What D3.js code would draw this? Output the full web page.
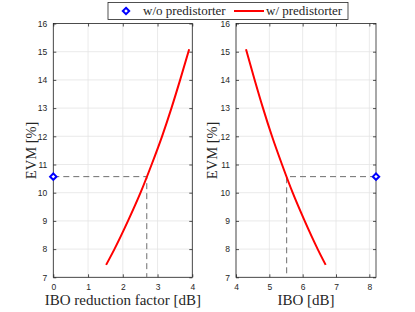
<!DOCTYPE html>
<html>
<head>
<meta charset="utf-8">
<script src="https://cdn.jsdelivr.net/npm/d3@7"></script>
<style>
  body { margin: 0; background: #fff; }
  svg { display: block; }
  .tick text { font-family: "Liberation Sans", Arial, sans-serif; font-size: 8.5px; fill: #262626; }
  .lbl { font-family: "Liberation Serif", "DejaVu Serif", serif; fill: #262626; }
</style>
</head>
<body>
<svg id="chart"></svg>
<script>
// values
const evm = [7.44, 8, 9, 10, 11, 12, 13, 14, 15.09];
const iboReduction = [1.52, 1.76, 2.15, 2.51, 2.83, 3.13, 3.40, 3.65, 3.91];
const ibo = [6.69, 6.45, 6.06, 5.70, 5.38, 5.08, 4.81, 4.56, 4.30];
const refEvm = 10.57;          // w/o predistorter
const refReduction = 0;
const refIbo = 8.2;
const crossReduction = 2.69;   // dashed guide
const crossIbo = 5.52;
const yTicks = [7, 8, 9, 10, 11, 12, 13, 14, 15, 16];
const leftTicks = [0, 1, 2, 3, 4];
const rightTicks = [4, 5, 6, 7, 8];

let width = 415, height = 312;
let svg = d3.select("#chart").attr("width", width).attr("height", height);

let y = d3.scaleLinear().domain([7, 16]).range([277.3, 23.5]);
let fmt = d3.format("d");

function drawPanel(x0, x1, domain, ticks, xs, refX, crossX, xLabel, yLabelX) {
    let x = d3.scaleLinear().domain(domain).range([x0, x1]);
    let g = svg.append("g");

    // grid
    g.selectAll(".gx").data(ticks).enter().append("line")
        .attr("x1", d => x(d)).attr("x2", d => x(d))
        .attr("y1", y(7)).attr("y2", y(16))
        .attr("stroke", "#e5e5e5").attr("stroke-width", 0.8);
    g.selectAll(".gy").data(yTicks).enter().append("line")
        .attr("x1", x0).attr("x2", x1)
        .attr("y1", d => y(d)).attr("y2", d => y(d))
        .attr("stroke", "#e5e5e5").attr("stroke-width", 0.8);

    // axes, ticks inward like matlab
    g.append("g").attr("transform", `translate(0,${y(7)})`)
        .call(d3.axisBottom(x).tickValues(ticks).tickFormat(fmt).tickSizeInner(-3).tickSizeOuter(0).tickPadding(7));
    g.append("g").attr("transform", `translate(${x0},0)`)
        .call(d3.axisLeft(y).tickValues(yTicks).tickFormat(fmt).tickSizeInner(-3).tickSizeOuter(0).tickPadding(6));
    g.append("g").attr("transform", `translate(0,${y(16)})`)
        .call(d3.axisTop(x).tickValues(ticks).tickSizeInner(-3).tickSizeOuter(0).tickFormat(""));
    g.append("g").attr("transform", `translate(${x1},0)`)
        .call(d3.axisRight(y).tickValues(yTicks).tickSizeInner(-3).tickSizeOuter(0).tickFormat(""));
    g.selectAll(".domain").remove();
    g.selectAll(".tick line").attr("stroke", "#262626").attr("stroke-width", 0.8);
    g.append("rect")
        .attr("x", x0).attr("y", y(16))
        .attr("width", x1 - x0).attr("height", y(7) - y(16))
        .attr("fill", "none").attr("stroke", "#262626").attr("stroke-width", 0.8);

    // dashed guides
    g.append("path")
        .attr("d", d3.line()([[x(refX), y(refEvm)], [x(crossX), y(refEvm)], [x(crossX), y(7)]]))
        .attr("fill", "none").attr("stroke", "#6e6e6e").attr("stroke-width", 1)
        .attr("stroke-dasharray", "6,4");

    // red curve (sorted by x so monotoneX can smooth it)
    let pts = xs.map((v, i) => [v, evm[i]]).sort((a, b) => a[0] - b[0]);
    let line = d3.line().x(d => x(d[0])).y(d => y(d[1])).curve(d3.curveMonotoneX);
    g.append("path")
        .datum(pts)
        .attr("d", line)
        .attr("fill", "none").attr("stroke", "#ff0000").attr("stroke-width", 2);

    // blue diamond
    g.append("path")
        .attr("d", d3.symbol(d3.symbolDiamond2, 26)())
        .attr("transform", `translate(${x(refX)},${y(refEvm)})`)
        .attr("fill", "#fff").attr("stroke", "#0000ff").attr("stroke-width", 2);

    // labels
    g.append("text").attr("class", "lbl")
        .attr("x", (x0 + x1) / 2).attr("y", 305)
        .attr("text-anchor", "middle").attr("font-size", 15)
        .text(xLabel);
    g.append("text").attr("class", "lbl")
        .attr("transform", `translate(${yLabelX},${(y(7) + y(16)) / 2}) rotate(-90)`)
        .attr("text-anchor", "middle").attr("font-size", 14.5)
        .text("EVM [%]");
}

drawPanel(53.3, 192.3, [0, 4], leftTicks, iboReduction, refReduction, crossReduction,
    "IBO reduction factor [dB]", 36);
drawPanel(236, 376, [4, 8.2], rightTicks, ibo, refIbo, crossIbo, "IBO [dB]", 217);

// legend
let leg = svg.append("g");
leg.append("rect")
    .attr("x", 108).attr("y", 2.5).attr("width", 240).attr("height", 17)
    .attr("fill", "#fff").attr("stroke", "#262626").attr("stroke-width", 0.8);
leg.append("path")
    .attr("d", d3.symbol(d3.symbolDiamond2, 26)())
    .attr("transform", "translate(126,11)")
    .attr("fill", "#fff").attr("stroke", "#0000ff").attr("stroke-width", 2);
leg.append("text").attr("class", "lbl")
    .attr("x", 143).attr("y", 15).attr("font-size", 13)
    .text("w/o predistorter");
leg.append("line")
    .attr("x1", 234).attr("x2", 264).attr("y1", 11).attr("y2", 11)
    .attr("stroke", "#ff0000").attr("stroke-width", 2);
leg.append("text").attr("class", "lbl")
    .attr("x", 266).attr("y", 15).attr("font-size", 13)
    .text("w/ predistorter");
</script>
</body>
</html>
